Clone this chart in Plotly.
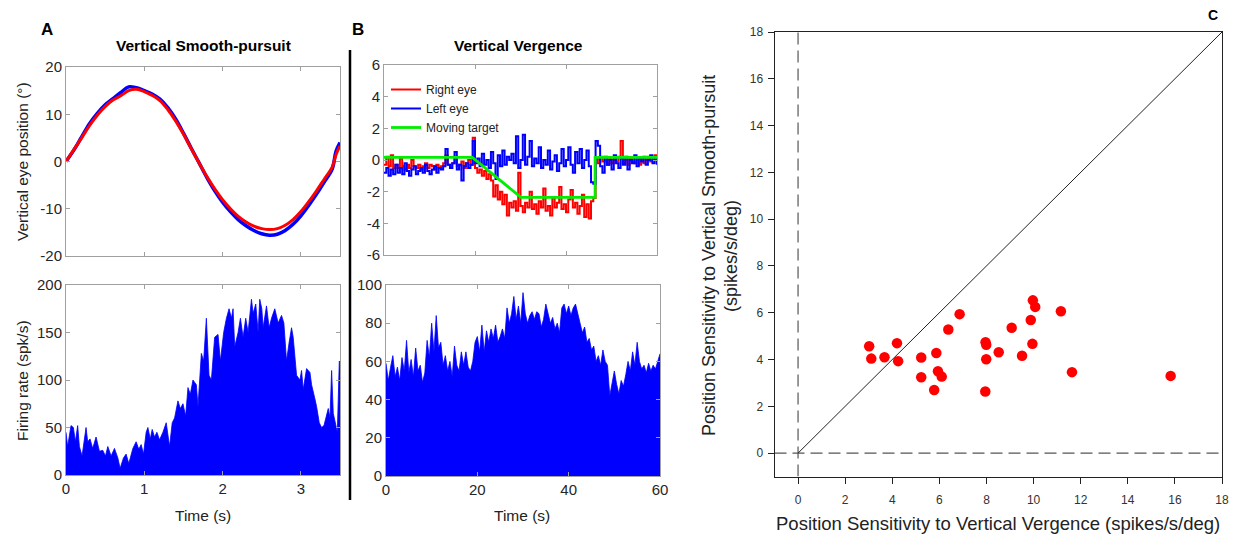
import plotly.graph_objects as go

# ---------------- DATA ----------------
# Panel A top: vertical eye position (deg) during smooth pursuit
t_sp = [0.0, 0.1, 0.2, 0.3, 0.4, 0.5, 0.6, 0.7, 0.8, 0.9, 1.0, 1.1, 1.2, 1.3, 1.4, 1.5, 1.6, 1.7,
        1.8, 1.9, 2.0, 2.1, 2.2, 2.3, 2.4, 2.5, 2.6, 2.7, 2.8, 2.9, 3.0, 3.1, 3.2, 3.3, 3.4, 3.45, 3.5]
sp_left = [0.0, 2.4, 5.2, 8.0, 10.2, 12.0, 13.3, 14.6, 15.8, 15.6, 15.0, 14.3, 13.2, 11.4, 9.0, 6.0, 2.8, -0.3,
           -3.4, -6.2, -8.6, -10.6, -12.3, -13.6, -14.6, -15.3, -15.6, -15.4, -14.6, -13.3, -11.5, -9.3, -6.9, -4.3, -1.6, 2.2, 4.0]
sp_right = [0.0, 2.5, 5.0, 7.6, 9.8, 11.6, 13.0, 13.9, 15.0, 15.3, 14.8, 14.0, 12.9, 11.0, 8.6, 5.8, 2.7, -0.3,
            -3.2, -5.8, -8.1, -10.0, -11.6, -12.8, -13.7, -14.2, -14.4, -14.2, -13.5, -12.3, -10.6, -8.5, -6.2, -3.7, -1.2, 1.5, 3.3]

# Panel A bottom: firing rate (spk/s)
t_fr_a = [0.000, 0.021, 0.064, 0.094, 0.120, 0.149, 0.171, 0.205, 0.256, 0.277, 0.307, 0.341, 0.384, 0.427,
          0.469, 0.504, 0.534, 0.576, 0.619, 0.662, 0.691, 0.734, 0.768, 0.802, 0.854, 0.896, 0.930, 0.960,
          0.990, 1.024, 1.046, 1.076, 1.101, 1.131, 1.161, 1.195, 1.238, 1.280, 1.323, 1.357, 1.387, 1.430,
          1.460, 1.494, 1.528, 1.558, 1.588, 1.622, 1.665, 1.686, 1.729, 1.758, 1.793, 1.827, 1.857, 1.899,
          1.942, 1.972, 2.014, 2.049, 2.083, 2.113, 2.134, 2.155, 2.198, 2.228, 2.262, 2.296, 2.326, 2.369,
          2.390, 2.424, 2.454, 2.475, 2.501, 2.518, 2.561, 2.595, 2.625, 2.667, 2.710, 2.753, 2.783, 2.817,
          2.851, 2.881, 2.902, 2.924, 2.945, 2.988, 3.009, 3.030, 3.073, 3.116, 3.137, 3.180, 3.201, 3.235,
          3.265, 3.295, 3.329, 3.350, 3.372, 3.393, 3.414, 3.449, 3.466, 3.491, 3.500]
fr_a = [45, 30, 52, 50, 35, 52, 30, 20, 50, 35, 38, 28, 40, 25,
        26, 20, 30, 20, 28, 18, 7, 18, 22, 12, 28, 35, 27, 32,
        22, 45, 50, 38, 48, 40, 45, 37, 45, 55, 30, 55, 60, 78,
        70, 75, 62, 92, 85, 100, 95, 72, 128, 120, 165, 105, 100, 145,
        148, 120, 150, 165, 175, 165, 175, 135, 150, 165, 145, 165, 150, 185,
        170, 180, 150, 185, 175, 155, 178, 155, 165, 175, 160, 168, 160, 120,
        140, 155, 145, 125, 105, 100, 110, 90, 112, 108, 95, 80, 72, 55,
        50, 52, 65, 70, 60, 110, 65, 50, 45, 120, 118]

# Panel B top: vertical vergence eye positions (deg), sampled every 0.5 s
vg_right = ([-0.3, 0.2, -0.4, 0.3, -0.5, -0.3, -0.5, 0.1, -0.4, -0.6, -0.3, -0.5, 0.0, -0.4, -0.5, -0.3,
             -0.6, -0.4, -0.2, -0.5, -0.3, -0.4, -0.6, -0.3, -0.5, -0.4]
            + [-0.2, 0.3, -0.3, -0.5, -0.2, 0.2, -0.4, -0.3, -0.1, -0.5, -0.2, 0.0, -0.3]
            + [1.4]
            + [-0.5, -0.8, -0.6, -1.0, -0.7, -1.2, -0.9, -1.3]
            + [-2.3, -1.6, -2.5, -2.0, -2.8, -2.2, -3.5, -2.7]
            + [-3.0, -2.6, -3.2, -0.8, -2.9, -3.3, -2.7, -3.0, -2.0, -3.1, -2.8, -3.4, -2.6, -3.0, -1.8,
               -3.2, -2.9, -3.5, -2.4, -3.0, -2.7, -1.7, -3.1, -2.8, -3.3, -2.5, -1.9, -3.0, -2.7, -3.4,
               -2.9, -2.2, -3.6, -2.8, -3.7, -2.6, -2.4]
            + [0.1, -0.2, 0.2, -0.1, 0.0, -0.3, 0.1, -0.2, 0.0, -0.1, 0.2, 1.2, -0.2, 0.0, -0.3, 0.1,
               -0.1, -0.2, 0.0, -0.3, 0.1, -0.2, 0.0, 0.2, -0.1, 0.0, 0.3, -0.1])
vg_left = ([-0.8, -0.5, -1.0, -0.6, -0.9, -0.3, -0.8, -0.5, -0.9, -0.2, -0.7, -1.0, -0.6, -0.4, -0.9, -0.7,
            -0.5, -0.8, -0.3, -0.7, -0.9, -0.6, -0.4, -0.8, -0.5, -0.6]
           + [-0.4, 0.7, -0.3, -0.5, -0.2, 0.5, -0.6, -0.3, -1.3, -0.4, -0.2, -0.5, -0.3]
           + [1.2]
           + [-0.2, 0.1, -0.4, 0.4, -0.3, 0.0, -0.5, 0.5]
           + [-0.2, -1.2, 0.3, -0.4, 0.6, -0.3, 0.2, 0.0]
           + [0.4, -0.2, 1.5, -0.5, 0.0, 1.6, -0.3, 0.2, 1.2, -0.4, 0.1, -0.2, 0.8, -0.5, 0.0, -0.3,
              0.6, -0.6, -0.1, 0.3, -0.7, -0.2, 0.7, -0.4, 0.0, 0.8, -0.3, -0.8, 0.5, -0.2, 0.7, -0.5,
              0.0, 0.6, -0.4, -1.4, -1.5]
           + [1.2, 0.9, -0.4, -0.8, 0.2, -0.3, 0.0, -0.6, 0.3, -0.2, -0.5, 0.1, -0.3, 0.2, -0.6, 0.0,
              -0.2, 0.3, -0.4, 0.1, -0.1, 0.2, -0.3, 0.0, 0.3, -0.2, 0.1, -0.3])
t_vg = [i * 0.5 for i in range(len(vg_right))]

# Moving target (deg)
t_target = [0, 19.4, 30.1, 46.4, 46.4, 60]
target = [0.17, 0.17, -2.36, -2.36, 0.17, 0.17]

# Panel B bottom: firing rate (spk/s), every 0.5 s
fr_b = [59, 50, 57, 63, 52, 57, 50, 62, 55, 71, 54, 61, 52, 67, 55, 58, 49, 54, 71, 62,
        80, 65, 84, 67, 70, 58, 63, 55, 60, 52, 68, 58, 55, 65, 58, 65, 57, 55, 60, 70,
        73, 65, 79, 65, 76, 70, 77, 72, 79, 70, 73, 77, 72, 88, 80, 85, 94, 82, 89, 80,
        96, 85, 80, 84, 86, 82, 86, 85, 78, 82, 90, 85, 80, 83, 77, 80, 75, 88, 90, 85,
        89, 84, 88, 90, 84, 80, 75, 78, 70, 72, 66, 68, 60, 63, 58, 66, 60, 58, 42, 48,
        55, 48, 43, 50, 47, 53, 60, 55, 65, 58, 70, 60, 56, 58, 54, 59, 55, 58, 56, 60, 64]
t_fr_b = [i * 0.5 for i in range(len(fr_b))]

# Panel C: position sensitivity per neuron
sens_vergence = [3.02, 3.11, 3.67, 4.20, 4.25, 5.23, 5.23, 5.78, 5.87, 5.94, 6.10, 6.38, 6.86, 7.96,
                 7.99, 7.99, 7.95, 8.52, 9.07, 9.51, 9.88, 9.95, 9.97, 10.07, 11.16, 11.63, 15.82]
sens_pursuit = [4.57, 4.04, 4.10, 4.70, 3.93, 4.09, 3.24, 2.70, 4.28, 3.50, 3.27, 5.28, 5.94, 4.74,
                4.63, 4.01, 2.63, 4.31, 5.36, 4.16, 5.69, 4.67, 6.53, 6.25, 6.06, 3.46, 3.30]
unity = [0, 18]
zero_line = [0, 0]
full_span = [-1, 18]

# ---------------- FIGURE ----------------
W, H = 1234, 536   # body margin is removed by the post script, so the figure fills the window

def px(x):
    return x / W

def py(y):
    return 1 - y / H

def dx(a, b):
    return [px(a), px(b)]

def dy(top, bottom):
    return [py(bottom), py(top)]

def lab(v):
    return str(v).replace("\u2212", "-")

FONT = "Liberation Sans, Arial, sans-serif"
TICKC = "#262626"
GRID = "#a0a0a0"

fig = go.Figure()

# A top
fig.add_trace(go.Scatter(x=t_sp, y=sp_left, mode="lines", line=dict(color="#0000ff", width=3.5, shape="spline"),
                         xaxis="x", yaxis="y", showlegend=False))
fig.add_trace(go.Scatter(x=t_sp, y=sp_right, mode="lines", line=dict(color="#ff0000", width=3, shape="spline"),
                         xaxis="x", yaxis="y", showlegend=False))
# A bottom
fig.add_trace(go.Scatter(x=t_fr_a, y=fr_a, mode="lines", fill="tozeroy", fillcolor="#0000ff",
                         line=dict(color="#0000ff", width=0.8), xaxis="x2", yaxis="y2", showlegend=False))
# B top
fig.add_trace(go.Scatter(x=t_vg, y=vg_right, mode="lines", name="Right eye",
                         line=dict(color="#ff0000", width=2, shape="hv"), xaxis="x3", yaxis="y3"))
fig.add_trace(go.Scatter(x=t_vg, y=vg_left, mode="lines", name="Left eye",
                         line=dict(color="#0000ff", width=2, shape="hv"), xaxis="x3", yaxis="y3"))
fig.add_trace(go.Scatter(x=t_target, y=target, mode="lines", name="Moving target",
                         line=dict(color="#00ee00", width=2.8), xaxis="x3", yaxis="y3"))
# B bottom
fig.add_trace(go.Scatter(x=t_fr_b, y=fr_b, mode="lines", fill="tozeroy", fillcolor="#0000ff",
                         line=dict(color="#0000ff", width=0.8), xaxis="x4", yaxis="y4", showlegend=False))
# C
fig.add_trace(go.Scatter(x=zero_line, y=full_span, mode="lines", line=dict(color="#555555", width=1.2, dash="12px,6px"),
                         xaxis="x5", yaxis="y5", showlegend=False))
fig.add_trace(go.Scatter(x=full_span, y=zero_line, mode="lines", line=dict(color="#555555", width=1.2, dash="12px,6px"),
                         xaxis="x5", yaxis="y5", showlegend=False))
fig.add_trace(go.Scatter(x=unity, y=unity, mode="lines", line=dict(color="#222222", width=1),
                         xaxis="x5", yaxis="y5", showlegend=False))
fig.add_trace(go.Scatter(x=sens_vergence, y=sens_pursuit, mode="markers",
                         marker=dict(color="#ff0000", size=10.5, line=dict(width=0)),
                         xaxis="x5", yaxis="y5", showlegend=False))

def mat_axis(domain, rng, tickvals, labels=True):
    return dict(domain=domain, range=rng, tickvals=tickvals, ticktext=[lab(v) for v in tickvals],
                showticklabels=labels, automargin=False,
                ticks="inside", ticklen=4, tickcolor=GRID, showline=True, linecolor=GRID, linewidth=1,
                mirror="ticks", showgrid=False, zeroline=False, fixedrange=True,
                tickfont=dict(family=FONT, size=15, color=TICKC))

def c_axis(domain, anchor, standoff):
    tv = list(range(0, 19, 2))
    return dict(domain=domain, range=[-1, 18], tickvals=tv, ticktext=[str(v) for v in tv], anchor=anchor,
                automargin=False, ticks="outside", ticklen=6, tickcolor="#222", showline=True, linecolor="#222",
                linewidth=1, mirror=True, showgrid=False, zeroline=False, ticklabelstandoff=standoff,
                tickfont=dict(family=FONT, size=12, color="#333"))

layout = dict(
    width=W, height=H, margin=dict(l=0, r=0, t=0, b=0, autoexpand=False),
    paper_bgcolor="white", plot_bgcolor="white",
    font=dict(family=FONT, color=TICKC),
    xaxis=mat_axis(dx(66, 340), [0, 3.5], [0, 1, 2, 3], labels=False),
    yaxis=dict(mat_axis(dy(67, 256), [-20, 20], [-20, -10, 0, 10, 20]), anchor="x"),
    xaxis2=dict(mat_axis(dx(66, 340), [0, 3.5], [0, 1, 2, 3]), anchor="y2"),
    yaxis2=dict(mat_axis(dy(285, 475), [0, 200], [0, 50, 100, 150, 200]), anchor="x2"),
    xaxis3=dict(mat_axis(dx(384, 657), [0, 60], [0, 20, 40, 60], labels=False), anchor="y3"),
    yaxis3=dict(mat_axis(dy(65, 255), [-6, 6], [-6, -4, -2, 0, 2, 4, 6]), anchor="x3"),
    xaxis4=dict(mat_axis(dx(386, 660), [0, 60], [0, 20, 40, 60]), anchor="y4"),
    yaxis4=dict(mat_axis(dy(285, 476), [0, 100], [0, 20, 40, 60, 80, 100]), anchor="x4"),
    xaxis5=c_axis(dx(774.5, 1222), "y5", 6),
    yaxis5=c_axis(dy(32, 476.5), "x5", 2),
    legend=dict(x=px(386), y=py(75), xanchor="left", yanchor="top", bgcolor="rgba(0,0,0,0)",
                font=dict(family=FONT, size=12, color="#222"), tracegroupgap=0),
    showlegend=True,
)
fig.update_layout(**layout)

ann = []
def A(x, y, text, size, bold=False, angle=0, xanchor="center", color="#222"):
    ann.append(dict(x=px(x), y=py(y), xref="paper", yref="paper", text=("<b>%s</b>" % text) if bold else text,
                    showarrow=False, textangle=angle, xanchor=xanchor, yanchor="middle",
                    font=dict(family=FONT, size=size, color=color)))

A(47, 30, "A", 17, bold=True, color="#000")
A(358, 30, "B", 17, bold=True, color="#000")
A(1213, 15, "C", 14, bold=True, color="#000")
A(203, 45, "Vertical Smooth-pursuit", 15.5, bold=True, color="#000")
A(518, 45, "Vertical Vergence", 15.5, bold=True, color="#000")
A(22, 162, "Vertical eye position (°)", 15.5, angle=-90)
A(22, 381, "Firing rate (spk/s)", 15.5, angle=-90)
A(203, 515, "Time (s)", 15.5)
A(522, 515, "Time (s)", 15.5)
A(709, 256, "Position Sensitivity to Vertical Smooth-pursuit", 18, angle=-90)
A(731, 256, "(spikes/s/deg)", 18, angle=-90)
A(998, 523, "Position Sensitivity to Vertical Vergence (spikes/s/deg)", 18.5)
fig.update_layout(annotations=ann)

fig.add_shape(type="line", xref="paper", yref="paper", x0=px(350), x1=px(350), y0=py(50), y1=py(500),
              line=dict(color="#000", width=2.5))

fig.write_html("out.html", config={"displayModeBar": False},
               post_script="document.body.style.margin='0';document.body.style.overflow='hidden';")
